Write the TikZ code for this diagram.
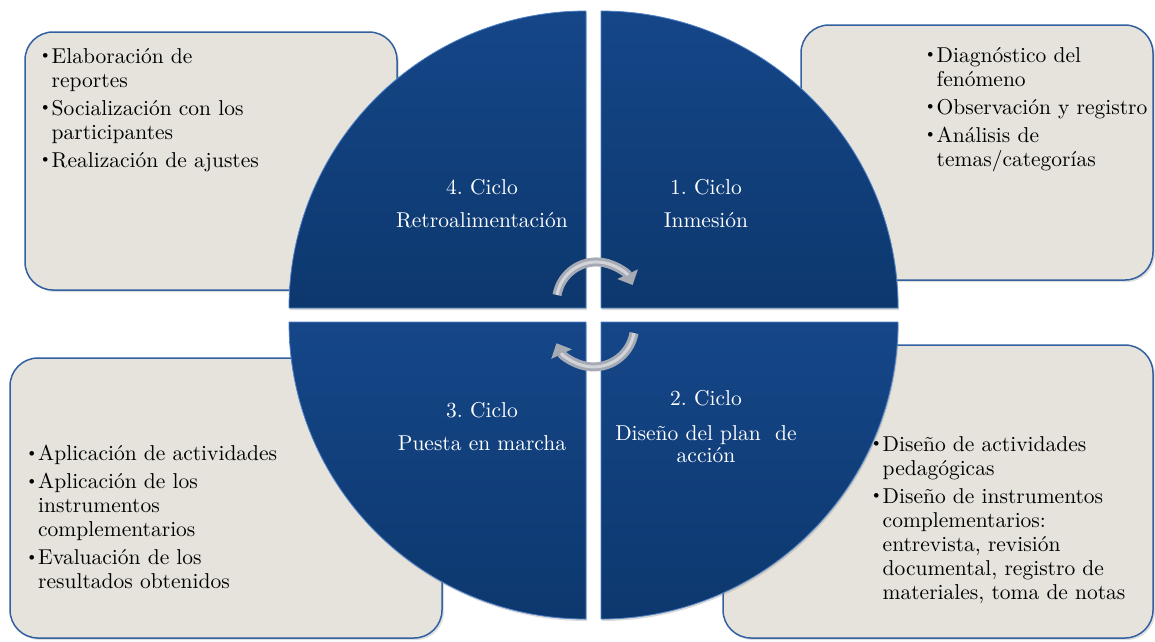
\documentclass[tikz,border=0pt]{standalone}
\usepackage{fontspec}
\setmainfont{lmroman10-regular}[Extension=.otf, BoldFont=lmroman10-bold, ItalicFont=lmroman10-italic]
\usetikzlibrary{arrows.meta, shadows}

\definecolor{boxfill}{RGB}{229,227,219}
\definecolor{boxline}{RGB}{50,96,160}
\definecolor{quadtop}{RGB}{21,70,136}
\definecolor{quadbot}{RGB}{13,56,110}
\definecolor{quadedge}{RGB}{80,130,200}
\definecolor{arrowgray}{RGB}{165,170,180}

\newcommand{\cyclefont}{\fontsize{21.5}{24}\selectfont\frenchspacing}
\newcommand{\blt}{\raisebox{3.5pt}{\fontsize{16}{16}\selectfont\textbullet}}
\newcommand{\bitem}{\hangindent=12.5pt\hangafter=1\noindent\makebox[12.5pt][l]{\blt}}

\tikzset{
  infobox/.style={draw=boxline, line width=1.5pt, fill=boxfill, rounded corners=28pt,
    drop shadow={opacity=0.25, shadow xshift=2pt, shadow yshift=-2pt}},
  quadrant/.style={top color=quadtop, bottom color=quadbot, draw=quadedge, line width=0.8pt,
    drop shadow={opacity=0.3, shadow xshift=1pt, shadow yshift=-2pt}},
  listtext/.style={anchor=north west, inner sep=0pt, text width=300pt, align=left,
    font=\cyclefont, execute at begin node={\setlength{\parskip}{4pt}}},
  cycletext/.style={anchor=north, inner sep=0pt, align=center, text=white, font=\cyclefont},
  cyclearrow/.style={line width=9pt, draw=arrowgray, -{Triangle[length=12pt, width=22pt]}},
  arrowshine/.style={line width=3pt, draw=white, opacity=0.5, shorten >=11pt},
}

\begin{document}
\begin{tikzpicture}[x=1pt, y=-1pt]
\useasboundingbox (0,0) rectangle (1155,641);

% side boxes
\node[infobox, minimum width=372pt, minimum height=258pt] (boxRetro) at (211,161) {};
\node[infobox, minimum width=352pt, minimum height=255pt] (boxInmesion) at (977,152.5) {};
\node[infobox, minimum width=432pt, minimum height=280pt] (boxMarcha) at (226,498) {};
\node[infobox, minimum width=430pt, minimum height=293pt] (boxDiseno) at (938,491.5) {};

% the four quarters of the cycle
\path[quadrant] (586,308) -- (289,308) arc[start angle=180, end angle=270, radius=297] -- cycle;
\path[quadrant] (601,308) -- (601,11) arc[start angle=270, end angle=360, radius=297] -- cycle;
\path[quadrant] (601,322) -- (898,322) arc[start angle=0, end angle=90, radius=297] -- cycle;
\path[quadrant] (586,322) -- (586,619) arc[start angle=90, end angle=180, radius=297] -- cycle;

% cycle labels
\node[cycletext] (labRetro) at (482,179) {4. Ciclo\\[9pt]Retroalimentación};
\node[cycletext] (labInmesion) at (706,179) {1. Ciclo\\[9pt]Inmesión};
\node[cycletext] (labMarcha) at (482,402) {3. Ciclo\\[9pt]Puesta en marcha};
\node[cycletext] (labDiseno) at (706,390) {2. Ciclo\\[11pt]Diseño del plan\ \ de\\[-2pt]acción};

% box texts
\node[listtext] (listRetro) at (39,48) {%
  \bitem Elaboración de\newline reportes\par
  \bitem Socialización con los\newline participantes\par
  \bitem Realización de ajustes\par};
\node[listtext] (listInmesion) at (924,47) {%
  \bitem Diagnóstico del\newline fenómeno\par
  \bitem Observación y registro\par
  \bitem Análisis de\newline temas/categorías\par};
\node[listtext] (listMarcha) at (25.5,445) {%
  \bitem Aplicación de actividades\par
  \bitem Aplicación de los\newline instrumentos\newline complementarios\par
  \bitem Evaluación de los\newline resultados obtenidos\par};
\node[listtext] (listDiseno) at (870,436) {%
  \bitem Diseño de actividades\newline pedagógicas\par
  \bitem Diseño de instrumentos\newline complementarios:\newline entrevista, revisión\newline
    documental, registro de\newline materiales, toma de notas\par};

% arrows in the middle
\coordinate (arrowTop) at (557,295);
\coordinate (arrowBottom) at (634,333);
\draw[cyclearrow] (arrowTop) arc[start angle=190, end angle=335, radius=40];
\draw[arrowshine] (arrowTop) arc[start angle=190, end angle=335, radius=40];
\draw[cyclearrow] (arrowBottom) arc[start angle=10, end angle=155, radius=41];
\draw[arrowshine] (arrowBottom) arc[start angle=10, end angle=155, radius=41];
\end{tikzpicture}
\end{document}
